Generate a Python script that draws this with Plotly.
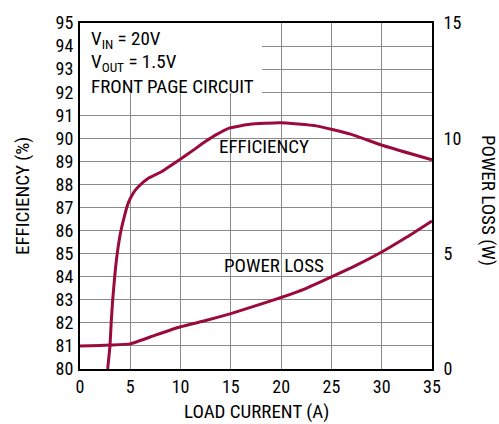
import plotly.graph_objects as go

load_eff = [2.75, 2.98, 3.1, 3.25, 3.45, 3.7, 4.05, 4.4, 4.8, 5.3, 5.8, 6.8, 8.1, 10, 11.3, 12.5, 13.6, 14.9, 16.9, 19.9, 23.5, 26.9, 30.2, 35]
efficiency = [80, 81, 82, 83, 84, 85, 85.95, 86.6, 87.2, 87.63, 87.9, 88.27, 88.55, 89.1, 89.5, 89.87, 90.17, 90.45, 90.61, 90.68, 90.54, 90.18, 89.68, 89.07]

load_loss = [0, 2, 3, 5, 7.5, 10, 12.5, 15, 17.5, 20, 22.5, 25, 27.5, 30, 32.5, 35]
power_loss = [1.0, 1.02, 1.04, 1.09, 1.47, 1.83, 2.1, 2.4, 2.75, 3.1, 3.5, 3.99, 4.5, 5.07, 5.72, 6.42]

x_ticks = [0, 5, 10, 15, 20, 25, 30, 35]
eff_ticks = list(range(80, 96))
loss_ticks = [0, 5, 10, 15]

FONT = "Liberation Sans Narrow, Roboto Condensed, Arial Narrow, Liberation Sans, sans-serif"
RED = "#9a0a3c"
FS = 19

fig = go.Figure()
fig.add_trace(go.Scatter(x=load_eff, y=efficiency, mode="lines", line=dict(color=RED, width=3, shape="spline", smoothing=0.4), showlegend=False))
fig.add_trace(go.Scatter(x=load_loss, y=power_loss, mode="lines", line=dict(color=RED, width=3, shape="spline", smoothing=0.4), yaxis="y2", showlegend=False))

fig.add_shape(type="rect", xref="x", yref="y", x0=0, x1=18.1, y0=91.95, y1=95, fillcolor="white", line=dict(width=0), layer="between")

fig.update_layout(
    width=499, height=424,
    margin=dict(l=80, r=67, t=17, b=55),
    paper_bgcolor="white", plot_bgcolor="white",
    font=dict(family=FONT, size=FS, color="black"),
    xaxis=dict(range=[0, 35], tickvals=x_ticks, showgrid=True, gridcolor="#8a8a8a", gridwidth=1,
               showline=True, linecolor="black", linewidth=2, mirror=True, ticks="", zeroline=False,
               tickfont=dict(size=18)),
    yaxis=dict(range=[80, 95], tickvals=eff_ticks, showgrid=True, gridcolor="#8a8a8a", gridwidth=1,
               showline=True, linecolor="black", linewidth=2, ticks="", zeroline=False,
               tickfont=dict(size=18), ticklabelstandoff=1),
    yaxis2=dict(range=[0, 15], tickvals=loss_ticks, overlaying="y", side="right", showgrid=False,
                showline=True, linecolor="black", linewidth=2, ticks="", zeroline=False,
                tickfont=dict(size=18), ticklabelstandoff=6),
)

ann = [
    dict(text="V<sub>IN</sub> = 20V", x=89, y=34),
    dict(text="V<sub>OUT</sub> = 1.5V", x=89, y=57),
    dict(text="FRONT PAGE CIRCUIT", x=89, y=82),
]
for a in ann:
    fig.add_annotation(text=a["text"], xref="paper", yref="paper",
                       x=(a["x"] - 80) / 352, y=1 - (a["y"] - 17) / 352,
                       xanchor="left", yanchor="middle", showarrow=False, font=dict(size=FS))

fig.add_annotation(text="EFFICIENCY", x=18.27, y=89.65, xref="x", yref="y", xanchor="center", yanchor="middle", showarrow=False, font=dict(size=FS))
fig.add_annotation(text="POWER LOSS", x=19.3, y=84.5, xref="x", yref="y", xanchor="center", yanchor="middle", showarrow=False, font=dict(size=FS))

fig.add_annotation(text="LOAD CURRENT (A)", xref="paper", yref="paper", x=(256 - 80) / 352, y=-(412 - 369) / 352,
                   xanchor="center", yanchor="middle", showarrow=False, font=dict(size=FS))
fig.add_annotation(text="EFFICIENCY (%)", xref="paper", yref="paper", x=(22 - 80) / 352, y=0.5,
                   xanchor="center", yanchor="middle", textangle=-90, showarrow=False, font=dict(size=FS))
fig.add_annotation(text="POWER LOSS (W)", xref="paper", yref="paper", x=(488 - 80) / 352, y=0.5 - 4 / 352,
                   xanchor="center", yanchor="middle", textangle=90, showarrow=False, font=dict(size=FS))

fig.write_html("out.html", config={"displayModeBar": False})

with open("out.html", "r", encoding="utf-8") as f:
    html = f.read()
html = html.replace("<head>", "<head><style>html,body{margin:0;padding:0;overflow:hidden;}</style>", 1)
with open("out.html", "w", encoding="utf-8") as f:
    f.write(html)
